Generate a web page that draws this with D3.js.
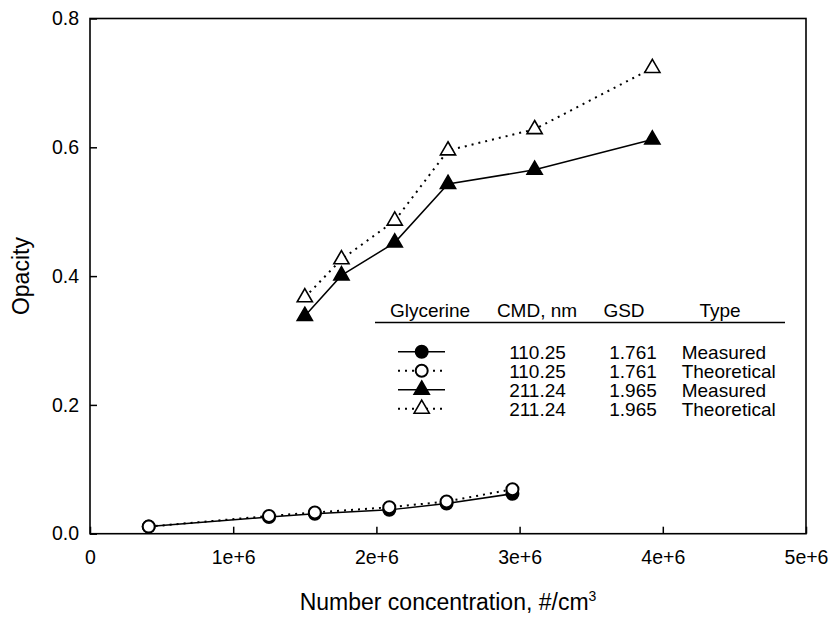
<!DOCTYPE html>
<html>
<head>
<meta charset="UTF-8">
<title>opacity_chart</title>
<style type="text/css">
	body { margin: 0; background: #fff; }
	text { font-family: "Liberation Sans", Arial, sans-serif; fill: #000; }
	.axis text { font-size: 19.5px; }
	.axis line { stroke: #000; stroke-width: 1.5px; }
	.axis path { display: none; }
	.title { font-size: 23px; }
	.legend text { font-size: 19px; }
</style>
<script type="text/javascript" src="https://cdn.jsdelivr.net/npm/d3@7"></script>
</head>
<body>
<div id="div_main"></div>
<script type="text/javascript">

	// data
	var xSmall = [0.41e6, 1.25e6, 1.57e6, 2.09e6, 2.49e6, 2.95e6];
	var smallMeasured = [0.011, 0.026, 0.031, 0.037, 0.047, 0.062];
	var smallTheoretical = [0.011, 0.0275, 0.033, 0.041, 0.050, 0.069];

	var xLarge = [1.50e6, 1.756e6, 2.128e6, 2.50e6, 3.105e6, 3.927e6];
	var largeMeasured = [0.338, 0.401, 0.452, 0.543, 0.565, 0.612];
	var largeTheoretical = [0.367, 0.426, 0.486, 0.595, 0.628, 0.723];

	var xTicks = [0, 1e6, 2e6, 3e6, 4e6, 5e6];
	var xTickLabels = ["0", "1e+6", "2e+6", "3e+6", "4e+6", "5e+6"];
	var yTicks = [0, 0.2, 0.4, 0.6, 0.8];
	var yTickLabels = ["0.0", "0.2", "0.4", "0.6", "0.8"];

	var legendHeader = ["Glycerine", "CMD, nm", "GSD", "Type"];
	var legendCmd = ["110.25", "110.25", "211.24", "211.24"];
	var legendGsd = ["1.761", "1.761", "1.965", "1.965"];
	var legendType = ["Measured", "Theoretical", "Measured", "Theoretical"];

	function draw(id_svg_main, svg_w, svg_h) {

		var series = [
			{ x: xSmall, y: smallMeasured, shape: "circle", filled: true, dotted: false },
			{ x: xSmall, y: smallTheoretical, shape: "circle", filled: false, dotted: true },
			{ x: xLarge, y: largeMeasured, shape: "triangle", filled: true, dotted: false },
			{ x: xLarge, y: largeTheoretical, shape: "triangle", filled: false, dotted: true }
		];

		var pLeft = 90, pRight = 806, pTop = 18.5, pBottom = 533.7;

		var svg = d3.select(id_svg_main)
			.append("svg")
				.attr("width", svg_w)
				.attr("height", svg_h);

		var scaleX = d3.scaleLinear().domain([0, 5e6]).range([pLeft, pRight]);
		var scaleY = d3.scaleLinear().domain([0, 0.8]).range([pBottom, pTop]);

		// axes, ticks pointing inward
		var axisX = d3.axisBottom(scaleX)
			.tickValues(xTicks)
			.tickFormat(function (d, i) { return xTickLabels[i]; })
			.tickSizeInner(-7).tickSizeOuter(0).tickPadding(16);
		svg.append("g")
			.attr("class", "x axis")
			.attr("transform", "translate(0," + pBottom + ")")
			.call(axisX);

		var axisY = d3.axisLeft(scaleY)
			.tickValues(yTicks)
			.tickFormat(function (d, i) { return yTickLabels[i]; })
			.tickSizeInner(-7).tickSizeOuter(0).tickPadding(11);
		svg.append("g")
			.attr("class", "y axis")
			.attr("transform", "translate(" + pLeft + ",0)")
			.call(axisY);

		svg.selectAll(".axis text").attr("font-family", "Liberation Sans");

		// frame
		svg.append("rect")
			.attr("x", pLeft).attr("y", pTop)
			.attr("width", pRight - pLeft).attr("height", pBottom - pTop)
			.attr("fill", "none").attr("stroke", "#000").attr("stroke-width", 1.6);

		// titles
		svg.append("text")
			.attr("class", "title")
			.attr("text-anchor", "middle")
			.attr("x", (pLeft + pRight) / 2)
			.attr("y", 610)
			.html('Number concentration, #/cm<tspan dy="-9" font-size="14px">3</tspan>');

		svg.append("text")
			.attr("class", "title")
			.attr("text-anchor", "middle")
			.attr("transform", "translate(29," + ((pTop + pBottom) / 2) + ") rotate(-90)")
			.text("Opacity");

		var circleSym = d3.symbol().type(d3.symbolCircle).size(Math.PI * 36);
		var triSym = d3.symbol().type(d3.symbolTriangle).size(100);

		function styleLine(sel, dotted) {
			sel.attr("fill", "none")
				.attr("stroke", "#000")
				.attr("stroke-width", dotted ? 2 : 1.5)
				.attr("stroke-dasharray", dotted ? "2,5" : null);
		}

		function styleMarker(sel, s) {
			sel.attr("d", s.shape == "circle" ? circleSym : triSym)
				.attr("fill", s.filled ? "#000" : "#fff")
				.attr("stroke", "#000")
				.attr("stroke-width", s.shape == "circle" ? 2 : 1.6);
		}

		// lines
		var line = d3.line()
			.x(function (d) { return scaleX(d[0]); })
			.y(function (d) { return scaleY(d[1]); });

		series.forEach(function (s) {
			var pts = s.x.map(function (v, i) { return [v, s.y[i]]; });
			svg.append("path")
				.datum(pts)
				.attr("d", line)
				.call(styleLine, s.dotted);
		});

		// markers
		series.forEach(function (s) {
			var pts = s.x.map(function (v, i) { return [v, s.y[i]]; });
			svg.append("g").selectAll("path")
				.data(pts)
				.enter()
				.append("path")
					.attr("transform", function (d) { return "translate(" + scaleX(d[0]) + "," + scaleY(d[1]) + ")"; })
					.call(styleMarker, s);
		});

		// legend
		var legend = svg.append("g").attr("class", "legend");
		var headerX = [430, 537, 624, 720];
		legend.selectAll("text.head")
			.data(legendHeader)
			.enter()
			.append("text")
				.attr("class", "head")
				.attr("text-anchor", "middle")
				.attr("x", function (d, i) { return headerX[i]; })
				.attr("y", 316.7)
				.text(function (d) { return d; });

		legend.append("line")
			.attr("x1", 375).attr("x2", 785)
			.attr("y1", 322.5).attr("y2", 322.5)
			.attr("stroke", "#000").attr("stroke-width", 1.5);

		var rowY = d3.scaleLinear().domain([0, 3]).range([351.7, 408.8]);

		series.forEach(function (s, i) {
			var cy = rowY(i);
			legend.append("path")
				.attr("d", "M398," + cy + "H445")
				.call(styleLine, s.dotted);
			legend.append("path")
				.attr("transform", "translate(421.7," + cy + ")")
				.call(styleMarker, s);
			legend.append("text")
				.attr("text-anchor", "middle")
				.attr("x", 537.5).attr("y", cy + 6.8)
				.text(legendCmd[i]);
			legend.append("text")
				.attr("text-anchor", "middle")
				.attr("x", 633).attr("y", cy + 6.8)
				.text(legendGsd[i]);
			legend.append("text")
				.attr("x", 681.7).attr("y", cy + 6.8)
				.text(legendType[i]);
		});
	}

	draw("#div_main", 832, 619);

</script>
</body>
</html>
